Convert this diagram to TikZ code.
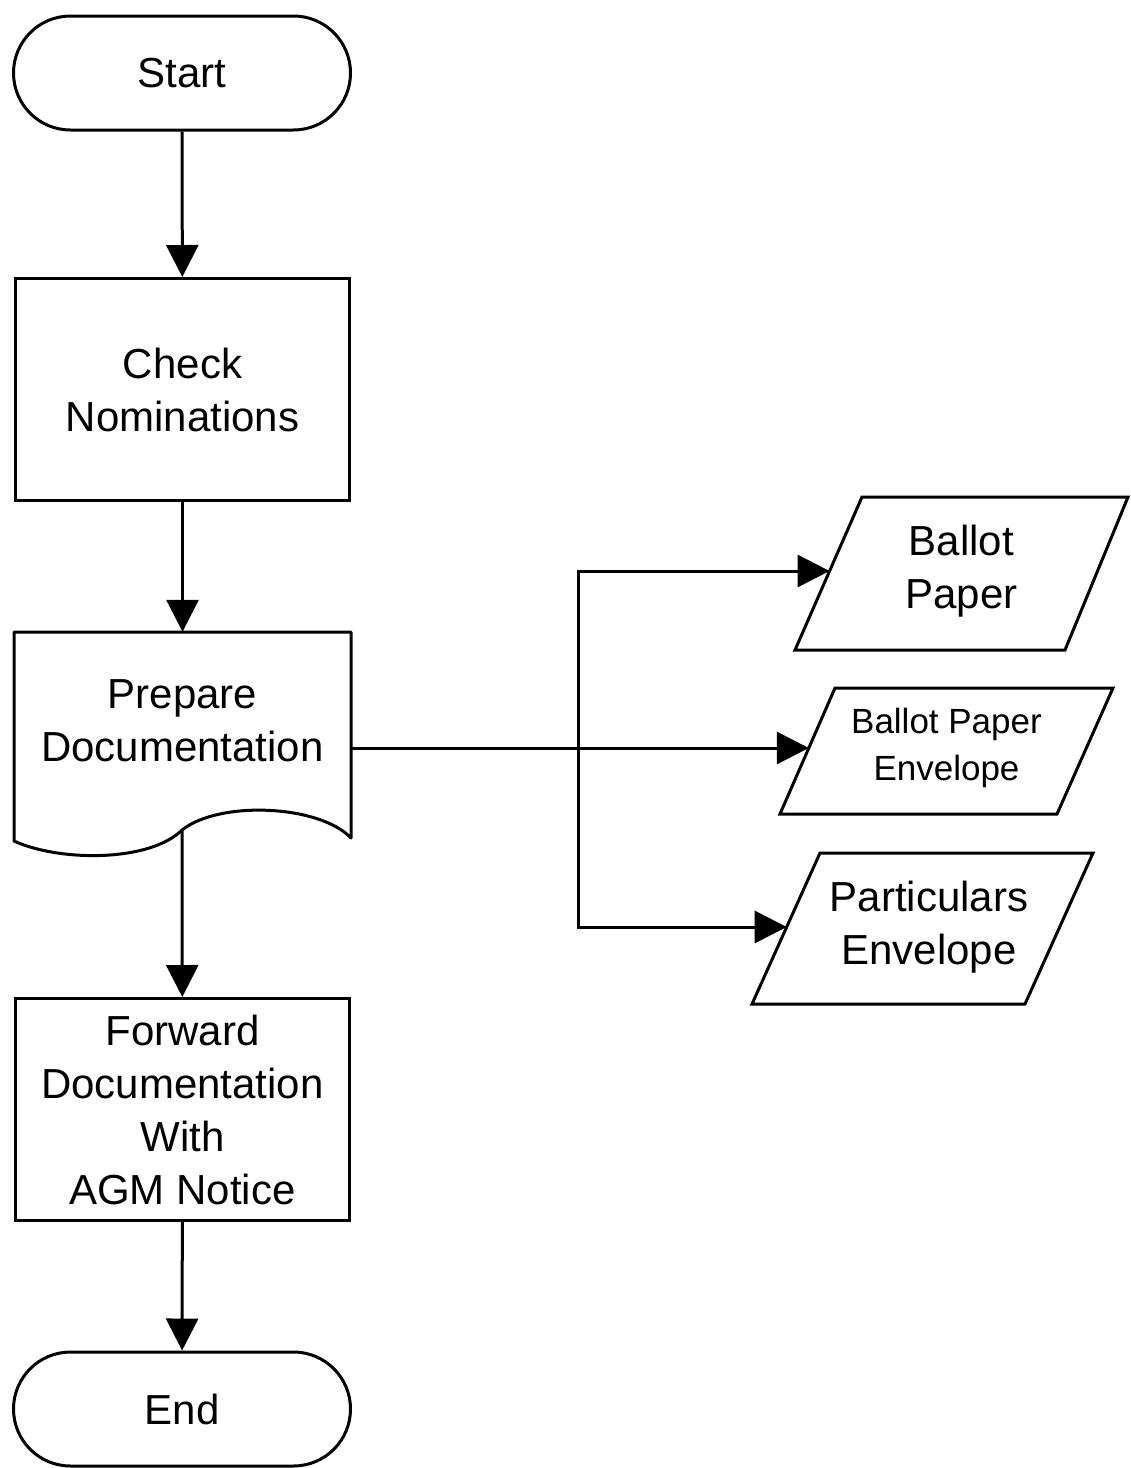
\documentclass[tikz,border=0pt]{standalone}
\usepackage{fontspec}
\setmainfont{Liberation Sans}
\usetikzlibrary{arrows.meta}
\begin{document}
\begin{tikzpicture}[x=1pt,y=-1pt,
  every node/.style={align=center, font=\fontsize{42}{53}\selectfont},
  outline/.style={draw, line width=3pt, line join=miter},
  terminal/.style={outline, rectangle, rounded corners=57pt, minimum width=337pt, minimum height=114pt},
  process/.style={outline, rectangle, minimum width=334pt, minimum height=222pt},
  arr/.style={line width=3pt, -{Triangle[width=32pt,length=32pt]}},
]
\useasboundingbox (0,0) rectangle (1131,1468);

% main column
\node[terminal] (start) at (182,73) {Start};
\node[process] (check) at (182.5,389.5) {Check\\Nominations};
\node[rectangle, minimum width=337pt, minimum height=208pt, inner sep=0pt] (prep) at (182.5,736) {};
\node at ([yshift=15pt]prep.center) (preptext) {Prepare\\Documentation};
\node[process] (fwd) at (182.5,1109.5) {Forward\\Documentation\\With\\AGM Notice};
\node[terminal] (end) at (182,1409) {End};

% document symbol with wavy lower edge
\draw[outline, line join=round] (14,632) -- (351,632) -- (351,838)
  .. controls (320,805) and (220,800) .. (182,830)
  .. controls (150,862) and (60,862) .. (14,841) -- cycle;
\coordinate (prepbot) at (182,831);

% documents produced (data parallelograms)
\draw[outline] (862,497) -- (1128,497) -- (1065,650) -- (795,650) -- cycle;
\node (bp) at (961.5,571) {Ballot\\Paper};
\coordinate (bpin) at (829.6,571);

\draw[outline] (835,688) -- (1113,688) -- (1057,814) -- (780,814) -- cycle;
\node[font=\fontsize{35}{47}\selectfont] (env) at (946.5,748) {Ballot Paper\\Envelope};
\coordinate (envin) at (808.8,748);

\draw[outline] (820,853) -- (1093,853) -- (1025,1004) -- (752,1004) -- cycle;
\node (part) at (929,927) {Particulars\\Envelope};
\coordinate (partin) at (786.7,927);

% connectors
\draw[arr] (start) -- (check);
\draw[arr] (check) -- (prep);
\draw[arr] (prepbot) -- (fwd);
\draw[arr] (fwd) -- (end);

\coordinate (split) at (578,748);
\draw[arr] (prep.east |- envin) -- (envin);
\draw[arr] (split) |- (bpin);
\draw[arr] (split) |- (partin);
\end{tikzpicture}
\end{document}
